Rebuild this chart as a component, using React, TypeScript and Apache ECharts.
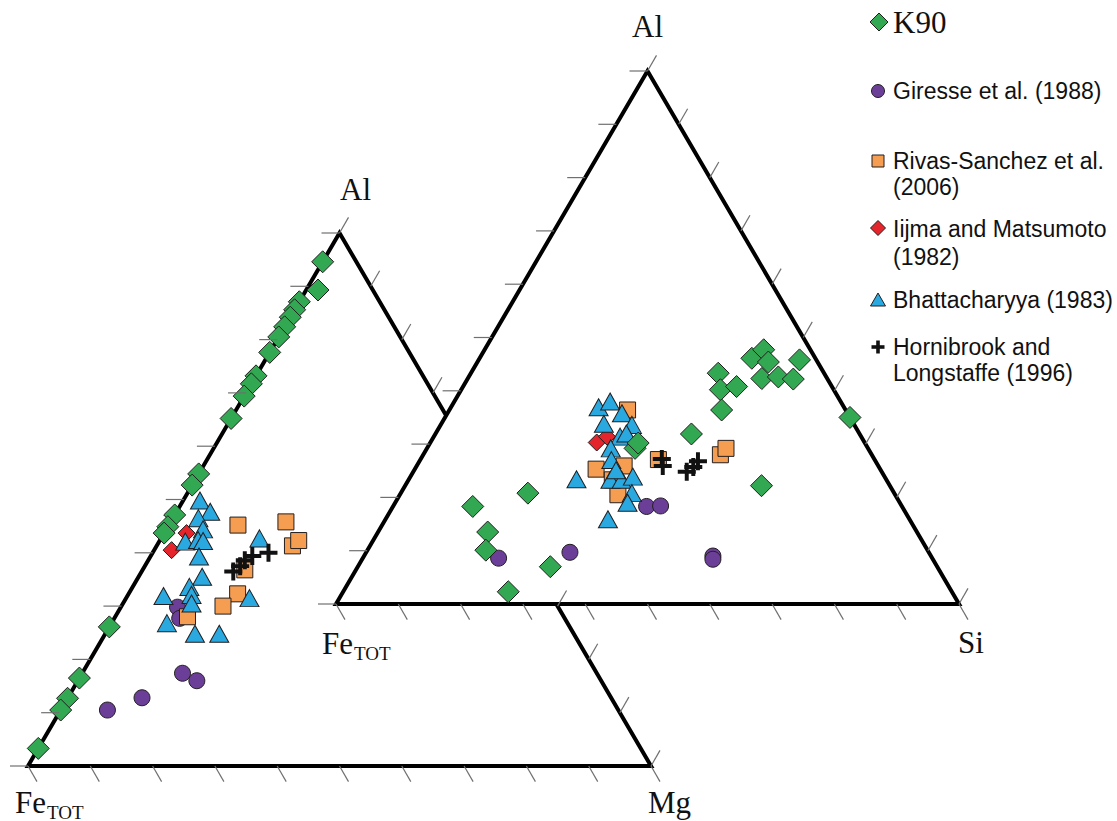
import React, { useEffect, useRef } from 'react';
import * as echarts from 'echarts';

const W = 1117;
const H = 821;

// Ternary frames: bottom-left vertex, base width and height, in pixels
const LEFT_TRI = { x0: 28, y0: 766, w: 623, h: 533 };
const RIGHT_TRI = { x0: 336, y0: 604, w: 623, h: 533 };

const TICK_FRACTIONS = [0, 0.1, 0.2, 0.3, 0.4, 0.5, 0.6, 0.7, 0.8, 0.9, 1];

// Left diagram: [Fe_TOT, Al, Mg] (%)
const k90FeAlMg = [
  [5.4, 94.6, 0], [8.8, 89.3, 1.9], [12.9, 87.1, 0], [14.4, 85.6, 0], [15.8, 84.2, 0],
  [17.6, 82.4, 0], [19.5, 80.5, 0], [22.4, 77.6, 0], [26.8, 73.2, 0], [28.3, 71.7, 0],
  [30.6, 69.4, 0], [34.8, 65.2, 0], [45.2, 54.8, 0], [47.3, 52.7, 0], [52.9, 47.1, 0],
  [55.1, 44.9, 0], [56.3, 43.7, 0], [73.9, 26.1, 0], [83.5, 16.5, 0], [87.3, 12.7, 0],
  [89.5, 10.5, 0], [96.7, 3.3, 0],
];
const giresseFeAlMg = [
  [82.0, 10.5, 7.5], [75.3, 12.8, 11.9], [66.5, 17.4, 16.1], [64.9, 16.0, 19.1],
  [61.1, 29.8, 9.1], [61.8, 27.7, 10.5],
];
const rivasFeAlMg = [
  [43.7, 45.2, 11.1], [35.7, 45.8, 18.5], [36.9, 41.3, 21.8], [35.4, 42.3, 22.3],
  [46.8, 36.8, 16.4], [50.2, 32.3, 17.5], [53.7, 30.0, 16.3], [60.4, 28.0, 11.6],
];
const iijmaFeAlMg = [[56.7, 40.5, 2.8], [52.7, 43.7, 3.6]];
const bhattFeAlMg = [
  [47.5, 49.8, 2.7], [46.9, 47.7, 5.4], [49.4, 46.5, 4.1], [49.7, 44.4, 5.9], [53.7, 42.1, 4.2],
  [51.5, 42.4, 6.1], [50.8, 42.2, 7.0], [52.9, 39.3, 7.8], [54.3, 35.5, 10.2], [57.3, 33.6, 9.1],
  [62.3, 31.9, 5.8], [57.7, 32.1, 10.2], [58.5, 30.5, 11.0], [64.3, 26.8, 8.9], [60.8, 24.8, 14.4],
  [56.9, 24.8, 18.3], [48.7, 31.5, 19.8], [41.5, 42.7, 15.8],
];
const hornibrookFeAlMg = [
  [48.8, 36.5, 14.7], [47.2, 37.5, 15.3], [45.9, 38.6, 15.5], [44.3, 39.4, 16.3], [41.4, 40.0, 18.6],
];

// Right diagram: [Fe_TOT, Al, Si] (%)
const k90FeAlSi = [
  [68.9, 18.3, 12.8], [58.8, 20.8, 20.4], [68.9, 13.5, 17.6], [70.9, 10.1, 19.0], [62.1, 7.0, 30.9],
  [71.2, 2.3, 26.5], [37.4, 29.2, 33.4], [36.4, 30.2, 33.4], [27.0, 31.9, 41.1], [17.0, 43.3, 39.7],
  [18.2, 40.2, 41.6], [15.3, 40.8, 43.9], [19.9, 36.4, 43.7], [10.2, 46.1, 43.7], [7.5, 47.7, 44.8],
  [7.9, 45.4, 46.7], [10.5, 42.3, 47.2], [7.7, 42.6, 49.7], [5.5, 42.2, 52.3], [2.7, 45.8, 51.5],
  [20.6, 22.2, 57.2], [0, 35.0, 65.0],
];
const giresseFeAlSi = [
  [69.6, 8.6, 21.8], [57.6, 9.7, 32.7], [41.0, 18.3, 40.7], [38.7, 18.4, 42.9],
  [35.0, 9.0, 56.0], [35.3, 8.4, 56.3],
];
const rivasFeAlSi = [
  [35.0, 36.4, 28.6], [45.6, 25.3, 29.1], [40.8, 25.9, 33.3], [44.5, 20.5, 35.0],
  [44.0, 23.3, 32.7], [34.7, 27.1, 38.2], [24.3, 28.0, 47.7], [22.8, 29.2, 48.0],
];
const iijmaFeAlSi = [[43.0, 30.3, 26.7], [40.8, 31.4, 27.8]];
const bhattFeAlSi = [
  [39.4, 36.9, 23.7], [37.0, 38.0, 25.0], [36.2, 35.8, 28.0], [40.1, 33.8, 26.1], [35.7, 33.6, 30.7],
  [38.7, 31.4, 29.9], [37.4, 32.0, 30.6], [41.3, 29.2, 29.5], [42.3, 27.0, 30.7], [49.7, 23.4, 26.9],
  [44.3, 23.3, 32.4], [42.5, 23.3, 34.2], [40.4, 23.9, 35.7], [42.1, 20.8, 37.1], [43.7, 19.0, 37.3],
  [48.4, 15.9, 35.7], [42.5, 25.1, 32.4],
];
const hornibrookFeAlSi = [
  [34.1, 27.2, 38.7], [34.6, 25.9, 39.5], [31.3, 24.8, 43.9], [29.8, 25.7, 44.5], [28.5, 26.8, 44.7],
];

const GREEN = '#33a852';
const PURPLE = '#6b3f98';
const ORANGE = '#f59d50';
const RED = '#e4252b';
const BLUE = '#2aa9e0';
const OUTLINE = '#231f20';
const TICK = '#707070';
const SERIF = '"Liberation Serif", "Times New Roman", serif';
const SANS = '"Liberation Sans", Arial, sans-serif';
const PLUS = 'path://M3.9,0H6.1V3.9H10V6.1H6.1V10H3.9V6.1H0V3.9H3.9Z';

type Tri = { x0: number; y0: number; w: number; h: number };

// [left, top, right] composition -> plane coordinates
function toXY(tri: Tri, c: number[]) {
  const s = c[0] + c[1] + c[2];
  const a = c[1] / s;
  const b = c[2] / s;
  return [tri.x0 + tri.w * (b + a / 2), tri.y0 - tri.h * a];
}

function vertices(tri: Tri) {
  return [
    [tri.x0, tri.y0],
    [tri.x0 + tri.w, tri.y0],
    [tri.x0 + tri.w / 2, tri.y0 - tri.h],
  ];
}

function insideTri(tri: Tri, p: number[]) {
  const a = (tri.y0 - p[1]) / tri.h;
  const u = (p[0] - tri.x0) / tri.w;
  const b = u - a / 2;
  const l = 1 - a - b;
  const e = 0.004;
  return a > e && b > e && l > e;
}

// tick segments [x1, y1, x2, y2] along the three sides
function tickSegments(tri: Tri, hideUnder?: Tri) {
  const [A, B, C] = vertices(tri);
  const segs: number[][] = [];
  const add = (p: number[], dx: number, dy: number) => {
    if (hideUnder && insideTri(hideUnder, p)) return;
    segs.push([p[0], p[1], p[0] + dx, p[1] + dy]);
  };
  TICK_FRACTIONS.forEach((t) => {
    add([A[0] + t * (C[0] - A[0]), A[1] + t * (C[1] - A[1])], -18, 0);
    add([A[0] + t * (B[0] - A[0]), A[1]], 9, 15.6);
    add([B[0] + t * (C[0] - B[0]), B[1] + t * (C[1] - B[1])], 9, -15.6);
  });
  return segs;
}

function frameSeries(tri: Tri, fill: string, z: number) {
  return {
    type: 'custom',
    coordinateSystem: 'cartesian2d',
    silent: true,
    z,
    data: [[tri.x0, tri.y0]],
    renderItem: (_p: any, api: any) => ({
      type: 'polygon',
      shape: { points: vertices(tri).map((v) => api.coord(v)) },
      style: { fill, stroke: '#000', lineWidth: 4, lineJoin: 'miter' },
    }),
  };
}

function tickSeries(segs: number[][], z: number) {
  return {
    type: 'custom',
    coordinateSystem: 'cartesian2d',
    silent: true,
    z,
    data: segs,
    renderItem: (_p: any, api: any) => {
      const p1 = api.coord([api.value(0), api.value(1)]);
      const p2 = api.coord([api.value(2), api.value(3)]);
      return {
        type: 'line',
        shape: { x1: p1[0], y1: p1[1], x2: p2[0], y2: p2[1] },
        style: { stroke: TICK, lineWidth: 1.2 },
      };
    },
  };
}

function scatter(name: string, tri: Tri, data: number[][], symbol: string, size: any, color: string, z: number, border = true) {
  return {
    type: 'scatter',
    name,
    silent: true,
    z,
    symbol,
    symbolSize: size,
    data: data.map((d) => toXY(tri, d)),
    itemStyle: { color, opacity: 1, borderColor: OUTLINE, borderWidth: border ? 1 : 0 },
  };
}

function pointSeries(tri: Tri, sets: any, zBase: number) {
  return [
    scatter('Giresse et al. (1988)', tri, sets.giresse, 'circle', 16, PURPLE, zBase),
    scatter('Rivas-Sanchez et al. (2006)', tri, sets.rivas, 'rect', 16, ORANGE, zBase + 1),
    scatter('Iijma and Matsumoto (1982)', tri, sets.iijma, 'diamond', 17, RED, zBase + 2),
    scatter('Bhattacharyya (1983)', tri, sets.bhatt, 'triangle', [19, 17], BLUE, zBase + 3),
    scatter('Hornibrook and Longstaffe (1996)', tri, sets.hornibrook, PLUS, 18, '#111', zBase + 4, false),
    scatter('K90', tri, sets.k90, 'diamond', 22, GREEN, zBase + 5),
  ];
}

function label(text: string, x: number, y: number, size = 31, family = SERIF, extra: any = {}) {
  return {
    type: 'text',
    x,
    y,
    z: 100,
    silent: true,
    style: {
      text,
      fontSize: size,
      fontFamily: family,
      fill: '#111',
      align: 'left',
      verticalAlign: 'middle',
      textAlign: 'left',
      textVerticalAlign: 'middle',
      ...extra,
    },
  };
}

function legendGraphics() {
  const stroke = { stroke: OUTLINE, lineWidth: 1 };
  const mx = 878;
  const tx = 893;
  const lh = { lineHeight: 26, verticalAlign: 'top', textVerticalAlign: 'top' };
  return [
    { type: 'polygon', z: 100, shape: { points: [[mx + 1, 13], [mx + 10, 22], [mx + 1, 31], [mx - 8, 22]] }, style: { fill: GREEN, ...stroke } },
    label('K90', tx, 22, 31, SERIF),
    { type: 'circle', z: 100, shape: { cx: mx, cy: 91, r: 6.5 }, style: { fill: PURPLE, ...stroke } },
    label('Giresse et al. (1988)', tx, 91, 23, SANS),
    { type: 'rect', z: 100, shape: { x: mx - 6, y: 155, width: 12, height: 12 }, style: { fill: ORANGE, ...stroke } },
    label('Rivas-Sanchez et al.\n(2006)', tx, 161 - 13, 23, SANS, lh),
    { type: 'polygon', z: 100, shape: { points: [[mx, 220.5], [mx + 7.5, 228], [mx, 235.5], [mx - 7.5, 228]] }, style: { fill: RED, ...stroke } },
    label('Iijma and Matsumoto\n(1982)', tx, 228 - 13, 23, SANS, { lineHeight: 28, verticalAlign: 'top', textVerticalAlign: 'top' }),
    { type: 'polygon', z: 100, shape: { points: [[mx, 293], [mx + 7.5, 306], [mx - 7.5, 306]] }, style: { fill: BLUE, ...stroke } },
    label('Bhattacharyya (1983)', tx, 300, 23, SANS),
    { type: 'rect', z: 100, shape: { x: mx - 6.5, y: 345.2, width: 13, height: 3.6 }, style: { fill: '#111' } },
    { type: 'rect', z: 100, shape: { x: mx - 1.8, y: 340.5, width: 3.6, height: 13 }, style: { fill: '#111' } },
    label('Hornibrook and\nLongstaffe (1996)', tx, 347 - 13, 23, SANS, lh),
  ];
}

export default function App() {
  const ref = useRef<HTMLDivElement>(null);

  useEffect(() => {
    if (!ref.current) return;
    const chart = echarts.init(ref.current, undefined, { renderer: 'svg', width: W, height: H });

    const leftSets = {
      k90: k90FeAlMg, giresse: giresseFeAlMg, rivas: rivasFeAlMg,
      iijma: iijmaFeAlMg, bhatt: bhattFeAlMg, hornibrook: hornibrookFeAlMg,
    };
    const rightSets = {
      k90: k90FeAlSi, giresse: giresseFeAlSi, rivas: rivasFeAlSi,
      iijma: iijmaFeAlSi, bhatt: bhattFeAlSi, hornibrook: hornibrookFeAlSi,
    };

    chart.setOption({
      animation: false,
      backgroundColor: '#ffffff',
      grid: { left: 0, right: 0, top: 0, bottom: 0, containLabel: false },
      xAxis: { type: 'value', min: 0, max: W, show: false },
      yAxis: { type: 'value', min: 0, max: H, inverse: true, show: false },
      tooltip: { show: false },
      series: [
        frameSeries(LEFT_TRI, 'none', 1),
        ...pointSeries(LEFT_TRI, leftSets, 2),
        frameSeries(RIGHT_TRI, '#ffffff', 10),
        tickSeries(tickSegments(LEFT_TRI, RIGHT_TRI), 11),
        tickSeries(tickSegments(RIGHT_TRI), 11),
        ...pointSeries(RIGHT_TRI, rightSets, 12),
      ],
      graphic: [
        label('Al', 340, 189.5),
        label('Fe', 15, 802.5),
        label('TOT', 47, 812, 19),
        label('Mg', 648, 802.5),
        label('Al', 632, 26.5),
        label('Fe', 322, 643),
        label('TOT', 354, 653, 19),
        label('Si', 958, 642.5),
        ...legendGraphics(),
      ],
    });

    return () => chart.dispose();
  }, []);

  return (
    <div style={{ position: 'fixed', left: 0, top: 0, width: W, height: H, background: '#fff' }}>
      <div ref={ref} style={{ width: W, height: H }} />
    </div>
  );
}
